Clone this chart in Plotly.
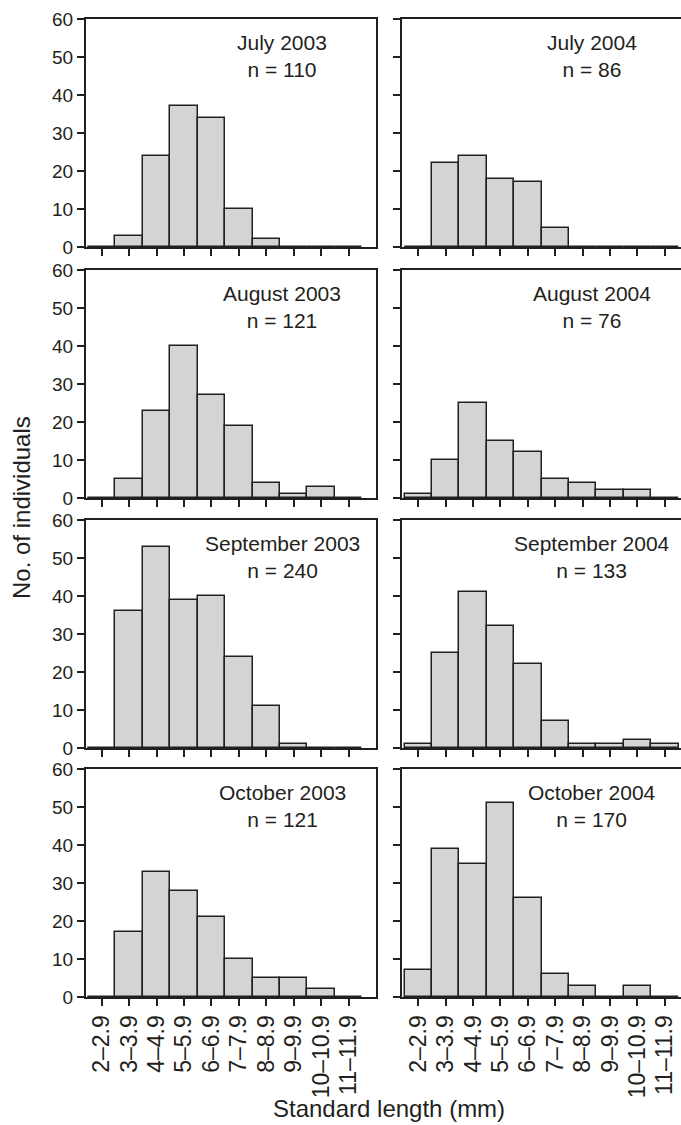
import plotly.graph_objects as go

W, H = 681, 1125

categories = ["2–2.9", "3–3.9", "4–4.9", "5–5.9", "6–6.9",
              "7–7.9", "8–8.9", "9–9.9", "10–10.9", "11–11.9"]

jul_2003 = [0, 3, 24, 37, 34, 10, 2, 0, 0, 0]
jul_2004 = [0, 22, 24, 18, 17, 5, 0, 0, 0, 0]
aug_2003 = [0, 5, 23, 40, 27, 19, 4, 1, 3, 0]
aug_2004 = [1, 10, 25, 15, 12, 5, 4, 2, 2, 0]
sep_2003 = [0, 36, 53, 39, 40, 24, 11, 1, 0, 0]
sep_2004 = [1, 25, 41, 32, 22, 7, 1, 1, 2, 1]
oct_2003 = [0, 17, 33, 28, 21, 10, 5, 5, 2, 0]
oct_2004 = [7, 39, 35, 51, 26, 6, 3, 0, 3, 0]

panel_labels = [
    ("July 2003", "n = 110"), ("July 2004", "n = 86"),
    ("August 2003", "n = 121"), ("August 2004", "n = 76"),
    ("September 2003", "n = 240"), ("September 2004", "n = 133"),
    ("October 2003", "n = 121"), ("October 2004", "n = 170"),
]
series = [jul_2003, jul_2004, aug_2003, aug_2004,
          sep_2003, sep_2004, oct_2003, oct_2004]

y_ticks = [0, 10, 20, 30, 40, 50, 60]

FONT = "Liberation Sans, Arial, Helvetica, sans-serif"
DARK = "#231f20"
FILL = "#d3d4d6"

# layout geometry (pixels)
col_px = [(86, 376), (402, 681)]
row_px = [(19, 247), (270, 498), (520, 748), (769, 997)]
x_ranges = [[-0.57, 10.0], [-0.595, 9.59]]
ann_x_px = [282, 592]

fig = go.Figure()
layout = dict(
    template="none",
    width=W, height=H,
    margin=dict(l=0, r=0, t=0, b=0, pad=0, autoexpand=False),
    paper_bgcolor="white", plot_bgcolor="white",
    showlegend=False, bargap=0,
    font=dict(family=FONT, color=DARK),
)
annotations = []

for i, vals in enumerate(series):
    r, c = divmod(i, 2)
    k = i + 1
    xa = "x" if k == 1 else f"x{k}"
    ya = "y" if k == 1 else f"y{k}"
    fig.add_trace(go.Bar(
        x=categories, y=vals, xaxis=xa, yaxis=ya, width=1,
        marker=dict(color=FILL, line=dict(color=DARK, width=1.5)),
    ))
    x0, x1 = col_px[c]
    y0, y1 = row_px[r]
    xkey = "xaxis" if k == 1 else f"xaxis{k}"
    ykey = "yaxis" if k == 1 else f"yaxis{k}"
    layout[xkey] = dict(
        domain=[x0 / W, x1 / W], anchor=ya, automargin=False,
        type="category", categoryorder="array", categoryarray=categories,
        tickmode="array", tickvals=categories, ticktext=categories,
        range=x_ranges[c],
        showline=True, linecolor=DARK, linewidth=2, mirror=True,
        ticks="outside", ticklen=7, tickwidth=1.5, tickcolor=DARK,
        showgrid=False, zeroline=False,
        showticklabels=(r == 3), tickangle=-90,
        tickfont=dict(family=FONT, size=23, color=DARK),
        fixedrange=True,
    )
    layout[ykey] = dict(
        domain=[1 - y1 / H, 1 - y0 / H], anchor=xa, automargin=False,
        range=[0, 60], tickvals=y_ticks,
        showline=True, linecolor=DARK, linewidth=2, mirror=(c == 0),
        ticks="outside", ticklen=7, tickwidth=1.5, tickcolor=DARK,
        showgrid=False, zeroline=False,
        showticklabels=(c == 0),
        tickfont=dict(family=FONT, size=19, color=DARK),
        fixedrange=True,
    )
    t1, t2 = panel_labels[i]
    annotations.append(dict(
        xref="paper", yref="paper",
        x=ann_x_px[c] / W, y=1 - (y0 + 37) / H,
        xanchor="center", yanchor="middle", showarrow=False,
        text=f"{t1}<br>{t2}", align="center",
        font=dict(family=FONT, size=21, color=DARK),
    ))

annotations.append(dict(
    xref="paper", yref="paper", x=22 / W, y=1 - 508 / H,
    xanchor="center", yanchor="middle", showarrow=False, textangle=-90,
    text="No. of individuals", font=dict(family=FONT, size=24, color=DARK),
))
annotations.append(dict(
    xref="paper", yref="paper", x=389 / W, y=1 - 1108 / H,
    xanchor="center", yanchor="middle", showarrow=False,
    text="Standard length (mm)", font=dict(family=FONT, size=24, color=DARK),
))
layout["annotations"] = annotations
fig.update_layout(**layout)
fig.write_html("out.html")
